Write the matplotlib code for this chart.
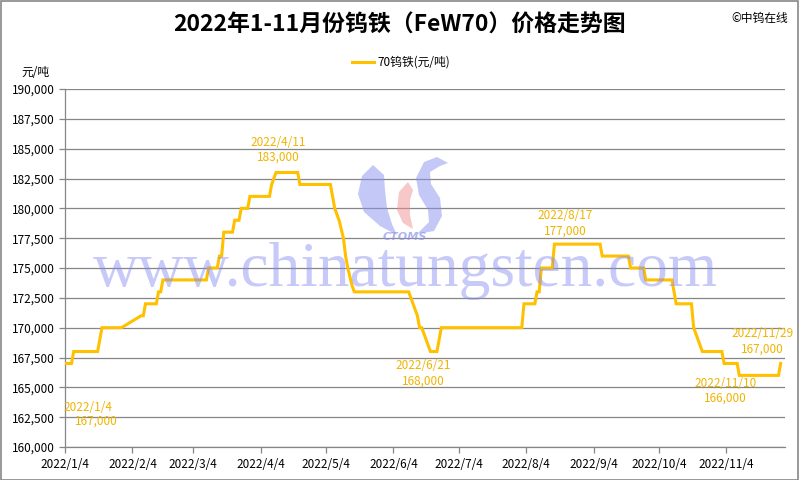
import matplotlib
matplotlib.use("Agg")
import matplotlib.pyplot as plt
from matplotlib.patches import Rectangle, Polygon
import numpy as np
import pandas as pd

plt.rcParams['font.family'] = ['Noto Sans CJK SC', 'DejaVu Sans']

# ---- data ----
dates = ["2022-01-04", "2022-01-07", "2022-01-08", "2022-01-19", "2022-01-20", "2022-01-21",
         "2022-01-30", "2022-02-08", "2022-02-09", "2022-02-10", "2022-02-15", "2022-02-16",
         "2022-02-17", "2022-02-18", "2022-03-10", "2022-03-11", "2022-03-15", "2022-03-16",
         "2022-03-17", "2022-03-18", "2022-03-22", "2022-03-23", "2022-03-25", "2022-03-26",
         "2022-03-29", "2022-03-30", "2022-04-08", "2022-04-09", "2022-04-11", "2022-04-21",
         "2022-04-22", "2022-05-06", "2022-05-08", "2022-05-10", "2022-05-12", "2022-05-13",
         "2022-05-14", "2022-05-16", "2022-05-17", "2022-06-11", "2022-06-13", "2022-06-15",
         "2022-06-16", "2022-06-17", "2022-06-18", "2022-06-19", "2022-06-20", "2022-06-21",
         "2022-06-24", "2022-06-25", "2022-06-26", "2022-08-02", "2022-08-03", "2022-08-08",
         "2022-08-09", "2022-08-10", "2022-08-11", "2022-08-16", "2022-08-17", "2022-09-07",
         "2022-09-08", "2022-09-20", "2022-09-21", "2022-09-27", "2022-09-28", "2022-10-10",
         "2022-10-11", "2022-10-12", "2022-10-19", "2022-10-20", "2022-10-21", "2022-10-22",
         "2022-10-23", "2022-10-24", "2022-11-02", "2022-11-03", "2022-11-09", "2022-11-10",
         "2022-11-28", "2022-11-29"]
prices = [167000, 167000, 168000, 168000, 169000, 170000,
          170000, 171000, 171000, 172000, 172000, 173000,
          173000, 174000, 174000, 175000, 175000, 176000,
          176000, 178000, 178000, 179000, 179000, 180000,
          180000, 181000, 181000, 182000, 183000, 183000,
          182000, 182000, 180000, 179000, 177500, 176000,
          175000, 173500, 173000, 173000, 172000, 171000,
          170000, 170000, 169500, 169000, 168500, 168000,
          168000, 169000, 170000, 170000, 172000, 172000,
          173000, 173000, 175000, 175000, 177000, 177000,
          176000, 176000, 175000, 175000, 174000, 174000,
          173000, 172000, 172000, 170000, 169500, 169000,
          168500, 168000, 168000, 167000, 167000, 166000,
          166000, 167000]

tick_dates = ["2022-01-04", "2022-02-04", "2022-03-04", "2022-04-04", "2022-05-04", "2022-06-04",
              "2022-07-04", "2022-08-04", "2022-09-04", "2022-10-04", "2022-11-04"]
tick_labels = ["2022/1/4", "2022/2/4", "2022/3/4", "2022/4/4", "2022/5/4", "2022/6/4",
               "2022/7/4", "2022/8/4", "2022/9/4", "2022/10/4", "2022/11/4"]
y_ticks = list(range(160000, 190001, 2500))

ann_dates = ["2022-01-04", "2022-04-11", "2022-06-21", "2022-08-17", "2022-11-10", "2022-11-29"]
ann_values = [167000, 183000, 168000, 177000, 166000, 167000]

series_name = "70钨铁(元/吨)"
title = "2022年1-11月份钨铁（FeW70）价格走势图"

# label placement (pixel offsets from the point: date label, value label)
ann_offsets = [((23, -44), (31, -58)),
               ((2, 30), (2, 15)),
               ((-7, -14), (-7, -30)),
               ((11, 29), (11, 13)),
               ((-14, -8), (-14, -23)),
               ((-18, 30), (-18, 14))]

# ---- figure ----
LINE = "#FFC000"
TXT = "#F0B400"
GRID = "#868686"

fig = plt.figure(figsize=(8, 4.8), dpi=100)
ax = fig.add_axes([65/800, 33/480, 720/800, 358/480])

dt = pd.to_datetime(dates)
ax.plot(dt, prices, color=LINE, lw=2.2, solid_joinstyle='miter', zorder=3, label=series_name)

ax.set_xlim(pd.Timestamp("2022-01-04"), pd.Timestamp("2022-12-01"))
ax.set_ylim(160000, 190000)
ax.set_yticks(y_ticks)
ax.set_yticklabels([f"{v:,}" for v in y_ticks])
ax.set_xticks(pd.to_datetime(tick_dates))
ax.set_xticklabels(tick_labels)

ax.grid(axis='y', color=GRID, lw=0.9, zorder=1)
for s in ['top', 'right']:
    ax.spines[s].set_visible(False)
for s in ['left', 'bottom']:
    ax.spines[s].set_color(GRID)
    ax.spines[s].set_linewidth(0.9)
ax.tick_params(axis='both', colors=GRID, labelcolor='black', labelsize=8.5, length=4, width=0.9)
ax.tick_params(axis='x', pad=4)

# data labels
for d, v, (od, ov) in zip(ann_dates, ann_values, ann_offsets):
    x = pd.Timestamp(d)
    lab = f"{d[:4]}/{int(d[5:7])}/{int(d[8:])}"
    ax.annotate(lab, (x, v), xytext=od, textcoords='offset pixels',
                ha='center', va='center', color=TXT, fontsize=8.5, annotation_clip=False)
    ax.annotate(f"{v:,}", (x, v), xytext=ov, textcoords='offset pixels',
                ha='center', va='center', color=TXT, fontsize=8.5, annotation_clip=False)

# watermark logo (pixel-coordinate overlay)
ov_ax = fig.add_axes([0, 0, 1, 1], zorder=5)
ov_ax.set_xlim(0, 800)
ov_ax.set_ylim(480, 0)
ov_ax.axis('off')
ov_ax.patch.set_alpha(0)
blue_l = [(373, 165), (362, 176), (358, 194), (364, 212), (380, 226), (397, 235),
          (392, 224), (387, 208), (385, 190), (384, 175)]
red_m = [(408, 182), (399, 192), (397, 210), (403, 223), (413, 229),
         (410, 215), (410, 200), (413, 190)]
blue_r = [(448, 163), (437, 157), (424, 162), (416, 178), (419, 195), (428, 210), (429, 222),
          (417, 234), (434, 231), (442, 216), (440, 198), (431, 184), (430, 172), (440, 166)]
for pts, c in [(blue_l, '#8A92F0'), (red_m, '#F29090'), (blue_r, '#8A92F0')]:
    ov_ax.add_patch(Polygon(pts, closed=True, facecolor=c, edgecolor='none', alpha=0.5))
ov_ax.text(405, 237, "CTOMS", fontsize=8, style='italic', weight='bold', family='DejaVu Sans',
           color='#8E95EE', alpha=0.7, ha='center', va='center')
ov_ax.text(405, 271, "www.chinatungsten.com", fontsize=45.5, family='Liberation Serif',
           color='#838AF0', alpha=0.45, ha='center', va='center')

# titles and legend
fig.text(0.5, 0.948, title, ha='center', va='center', fontsize=16.5, weight='bold')
fig.text(0.985, 0.962, "©中钨在线", ha='right', va='center', fontsize=8.5)
fig.text(0.027, 0.85, "元/吨", ha='left', va='center', fontsize=8.5)
leg = ax.legend(loc='center', bbox_to_anchor=(0.467, 1.075), frameon=False, fontsize=8.5,
                handlelength=1.9, handletextpad=0.3)

# chart border
fig.patches.append(Rectangle((0.001, 0.001), 0.997, 0.997, transform=fig.transFigure,
                             fill=False, edgecolor='#888888', lw=1.2))

fig.savefig("out.png", dpi=100)
